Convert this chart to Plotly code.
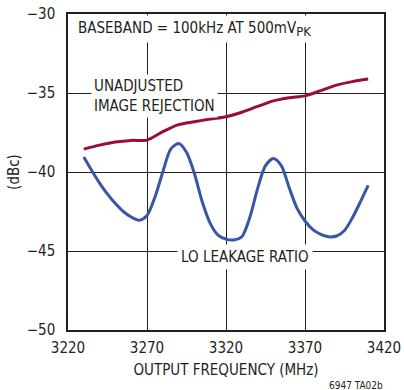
import plotly.graph_objects as go

# unadjusted image rejection (dBc) vs output frequency (MHz)
img_freq = [3230, 3240, 3250, 3260, 3270, 3280, 3290, 3300, 3310, 3320,
            3330, 3340, 3350, 3360, 3370, 3380, 3390, 3400, 3410]
img_rej = [-38.55, -38.3, -38.1, -38.0, -37.98, -37.45, -37.0, -36.82, -36.65, -36.5,
           -36.22, -35.85, -35.5, -35.3, -35.18, -34.85, -34.5, -34.28, -34.12]

# LO leakage ratio (dBc)
lo_freq = [3230, 3235, 3240, 3245, 3250, 3255, 3260, 3265, 3270, 3275,
           3280, 3285, 3290, 3295, 3300, 3305, 3310, 3315, 3320, 3325,
           3330, 3335, 3340, 3345, 3350, 3355, 3360, 3365, 3370, 3375,
           3380, 3385, 3390, 3395, 3400, 3405, 3410]
lo_leak = [-39.05, -39.9, -40.7, -41.4, -42.0, -42.5, -42.85, -43.05, -42.75, -41.6,
           -40.0, -38.55, -38.2, -38.75, -40.1, -41.9, -43.25, -44.0, -44.25, -44.3,
           -44.1, -42.9, -41.05, -39.6, -39.15, -39.6, -41.0, -42.3, -43.1, -43.65,
           -43.95, -44.1, -44.05, -43.7, -42.9, -41.9, -40.85]

x_ticks = [3220, 3270, 3320, 3370, 3420]
y_ticks = [-50, -45, -40, -35, -30]

FONT = "DejaVu Sans Condensed, Roboto, sans-serif"
TXT = "#231f20"

fig = go.Figure()

fig.add_trace(go.Scatter(
    x=img_freq, y=img_rej, mode='lines',
    line=dict(color='#9c0c3a', width=3, shape='spline', smoothing=0.8),
    showlegend=False
))
fig.add_trace(go.Scatter(
    x=lo_freq, y=lo_leak, mode='lines',
    line=dict(color='#3a55a6', width=3, shape='spline', smoothing=0.8),
    showlegend=False
))

# labels with white boxes that break the grid lines
fig.add_annotation(x=3223.5, y=-30.95, xanchor='left', yanchor='middle',
                   text="BASEBAND = 100kHz AT 500mV<sub><span style='font-size:13px'>PK</span></sub>",
                   showarrow=False, bgcolor='white', borderpad=3,
                   font=dict(size=15, color=TXT, family=FONT))
fig.add_annotation(x=3234.5, y=-35.22, xanchor='left', yanchor='middle', align='left',
                   text="UNADJUSTED<br>IMAGE REJECTION",
                   showarrow=False, bgcolor='white', borderpad=2,
                   font=dict(size=15, color=TXT, family=FONT))
fig.add_annotation(x=3332, y=-45.4, xanchor='center', yanchor='middle',
                   text="LO LEAKAGE RATIO",
                   showarrow=False, bgcolor='white', borderpad=3,
                   font=dict(size=15, color=TXT, family=FONT))
fig.add_annotation(x=1.003, y=-0.177, xref='paper', yref='paper',
                   xanchor='right', yanchor='middle',
                   text="6947 TA02b", showarrow=False,
                   font=dict(size=10, color=TXT, family=FONT))

fig.update_xaxes(
    range=[3220, 3420], tickvals=x_ticks, automargin=False,
    showgrid=True, gridcolor='#231f20', gridwidth=1,
    showline=True, linecolor='#231f20', linewidth=1.5, mirror=True,
    zeroline=False, ticks='', ticklabelstandoff=3,
    tickfont=dict(size=15, color=TXT, family=FONT),
    title=dict(text="OUTPUT FREQUENCY (MHz)", standoff=9,
               font=dict(size=15, color=TXT, family=FONT))
)
fig.update_yaxes(
    range=[-50, -30], tickvals=y_ticks, automargin=False,
    showgrid=True, gridcolor='#231f20', gridwidth=1,
    showline=True, linecolor='#231f20', linewidth=1.5, mirror=True,
    zeroline=False, ticks='', ticklabelstandoff=8,
    tickfont=dict(size=15, color=TXT, family=FONT),
    title=dict(text="(dBc)", standoff=4,
               font=dict(size=15, color=TXT, family=FONT))
)

fig.update_layout(
    width=404, height=390,
    margin=dict(l=68, r=20, t=14, b=60),
    plot_bgcolor='white', paper_bgcolor='white',
    showlegend=False
)

# drop the default page margin so the figure sits at the window's corner
fig.write_html("out.html", config={'displayModeBar': False},
               post_script="document.body.style.margin='0';")
